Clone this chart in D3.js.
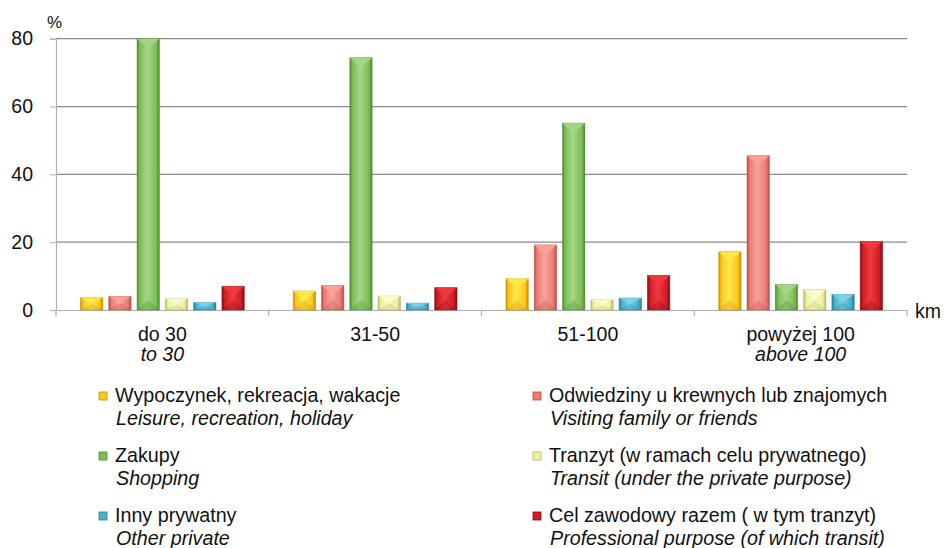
<!DOCTYPE html>
<html><head><meta charset="utf-8">
<script src="https://cdn.jsdelivr.net/npm/d3@7"></script>
<style>body{margin:0;background:#fff}svg{display:block;font-family:"Liberation Sans",Arial,sans-serif}</style>
</head><body><svg id="c" width="946" height="548"></svg>
<script>
const categories = ["do 30","31-50","51-100","powyżej 100"];
const categoriesEn = ["to 30","","","above 100"];
const seriesPl = ["Wypoczynek, rekreacja, wakacje","Odwiedziny u krewnych lub znajomych","Zakupy","Tranzyt (w ramach celu prywatnego)","Inny prywatny","Cel zawodowy razem ( w tym tranzyt)"];
const seriesEn = ["Leisure, recreation, holiday","Visiting family or friends","Shopping","Transit (under the private purpose)","Other private","Professional purpose (of which transit)"];
const leisure = [3.6, 5.6, 9.2, 17.2];
const visiting = [4.0, 7.2, 19.2, 45.5];
const shopping = [80.0, 74.4, 55.1, 7.5];
const transit = [3.3, 4.1, 3.0, 6.0];
const otherPrivate = [2.2, 2.0, 3.5, 4.6];
const professional = [7.0, 6.6, 10.2, 20.2];
const yTicks = [0,20,40,60,80];
const values = [leisure, visiting, shopping, transit, otherPrivate, professional];
const colors = [
  {base:"#FFC61A", light:"#FFE94A", dark:"#C28E00"},
  {base:"#EE7A70", light:"#F6A59C", dark:"#B24E46"},
  {base:"#7BBE55", light:"#A6D688", dark:"#4D8A2F"},
  {base:"#EEF09C", light:"#FAFBCB", dark:"#B5B767"},
  {base:"#4AAFCB", light:"#80D2E8", dark:"#287D95"},
  {base:"#D01C24", light:"#F03A40", dark:"#85090F"}
];

const svg = d3.select("#c");
const defs = svg.append("defs");
colors.forEach((c,i)=>{
  const g = defs.append("linearGradient").attr("id","g"+i).attr("x1","0").attr("x2","1").attr("y1","0").attr("y2","0");
  g.append("stop").attr("offset","0").attr("stop-color",c.dark);
  g.append("stop").attr("offset","0.12").attr("stop-color",c.base);
  g.append("stop").attr("offset","0.45").attr("stop-color",c.light);
  g.append("stop").attr("offset","0.85").attr("stop-color",c.base);
  g.append("stop").attr("offset","1").attr("stop-color",c.dark);
});

const L = 56, R = 907, T = 38.7, B = 310;
const x = d3.scaleBand().domain(categories).range([L,R]).paddingInner(0).paddingOuter(0);
const x1 = d3.scaleBand().domain(d3.range(6)).range([0,x.bandwidth()]).paddingInner(0.21).paddingOuter(0.865);
const y = d3.scaleLinear().domain([0,80]).range([B,T]);

// gridlines
svg.append("g").selectAll("line").data(yTicks.filter(d=>d>0)).join("line")
  .attr("x1",L).attr("x2",R).attr("y1",d=>y(d)).attr("y2",d=>y(d))
  .attr("stroke","#8c8c8c").attr("stroke-width",1.2);

// y axis
const ya = svg.append("g").attr("transform",`translate(${L},0)`).call(d3.axisLeft(y).tickValues(yTicks).tickSize(6).tickPadding(17));
ya.select(".domain").attr("stroke","#b0b0b0").attr("stroke-width",1.2);
ya.selectAll(".tick line").attr("stroke","#b0b0b0");
ya.selectAll(".tick text").attr("font-size",19.5).attr("fill","#111").attr("font-family","Liberation Sans, Arial, sans-serif");

// x axis
const xa = svg.append("g").attr("transform",`translate(0,${B})`).call(d3.axisBottom(x).tickSize(0).tickFormat(""));
xa.select(".domain").attr("stroke","#b0b0b0").attr("stroke-width",1.2);
svg.append("g").selectAll("line").data([...categories.map(c=>x(c)), R]).join("line")
  .attr("x1",d=>d).attr("x2",d=>d).attr("y1",B).attr("y2",B+6).attr("stroke","#b0b0b0").attr("stroke-width",1.2);

// bars
const bw = x1.bandwidth();
values.forEach((vals,si)=>{
  const c = colors[si];
  const g = svg.append("g");
  vals.forEach((v,ci)=>{
    const bx = x(categories[ci]) + x1(si);
    const top = y(v), h = B - top;
    g.append("rect").attr("x",bx).attr("y",top).attr("width",bw).attr("height",h)
      .attr("fill",`url(#g${si})`).attr("stroke",c.dark).attr("stroke-opacity",0.6).attr("stroke-width",0.8);
    const th = Math.min(h/2, bw*0.45);
    g.append("path").attr("d",`M${bx},${top}L${bx+bw},${top}L${bx+bw/2},${top+th}Z`)
      .attr("fill",c.light).attr("opacity",0.85);
    g.append("path").attr("d",`M${bx},${B}L${bx+bw},${B}L${bx+bw/2},${B-th}Z`)
      .attr("fill",c.dark).attr("opacity",0.3);
  });
});

// axis titles
svg.append("text").attr("x",47).attr("y",28).attr("font-size",17).attr("fill","#111").text("%");
svg.append("text").attr("x",915).attr("y",318).attr("font-size",19.5).attr("fill","#111").text("km");

// category labels
const cl = svg.append("g").attr("font-size",19.5).attr("fill","#111").attr("text-anchor","middle");
categories.forEach((c,i)=>{
  const cx = x(c)+x.bandwidth()/2;
  cl.append("text").attr("x",cx).attr("y",341).text(c);
  if (categoriesEn[i]) cl.append("text").attr("x",cx).attr("y",361).attr("font-style","italic").text(categoriesEn[i]);
});

// legend
const lg = svg.append("g").attr("font-size",19.7).attr("fill","#111");
const colX = [99, 533], rowY = [402, 462, 522];
seriesPl.forEach((s,i)=>{
  const cx = colX[i%2], ry = rowY[Math.floor(i/2)];
  lg.append("rect").attr("x",cx).attr("y",ry-10).attr("width",8).attr("height",8)
    .attr("fill",colors[i].base).attr("stroke",colors[i].dark).attr("stroke-width",0.8);
  lg.append("text").attr("x",cx+16).attr("y",ry).text(s);
  lg.append("text").attr("x",cx+17).attr("y",ry+23).attr("font-style","italic").text(seriesEn[i]);
});
</script></body></html>
